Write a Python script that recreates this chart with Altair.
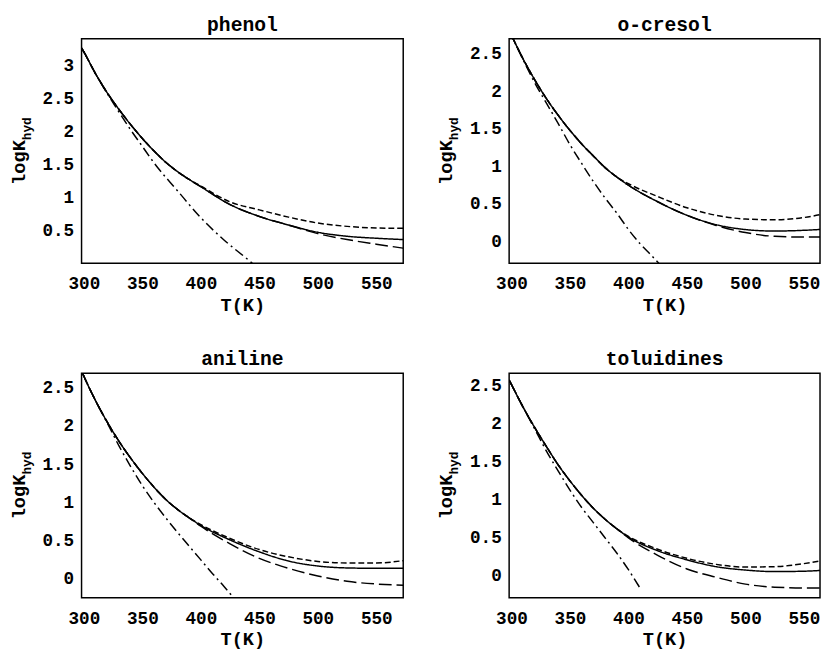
import altair as alt
import pandas as pd

# Temperature grids (K)
T_STD = [298, 300, 310, 320, 330, 340, 350, 360, 370, 380, 390, 400, 425, 450, 475, 500, 525, 550, 573]

# ---------------- phenol ----------------
phenol_solid = [3.26, 3.20, 2.87, 2.58, 2.33, 2.10, 1.89, 1.70, 1.53, 1.39, 1.27, 1.16, 0.89, 0.71, 0.58, 0.47, 0.41, 0.38, 0.36]
phenol_short = [3.26, 3.20, 2.87, 2.58, 2.33, 2.10, 1.89, 1.70, 1.53, 1.39, 1.27, 1.17, 0.93, 0.81, 0.70, 0.61, 0.56, 0.535, 0.53]
phenol_long = [3.26, 3.20, 2.87, 2.58, 2.33, 2.10, 1.89, 1.70, 1.53, 1.39, 1.27, 1.16, 0.89, 0.71, 0.58, 0.45, 0.36, 0.29, 0.23]
phenol_dd_T = [298, 300, 310, 320, 330, 340, 350, 360, 380, 400, 420, 440, 444]
phenol_dd = [3.26, 3.20, 2.87, 2.57, 2.29, 2.02, 1.77, 1.52, 1.10, 0.69, 0.35, 0.06, 0.0]

# ---------------- o-cresol ----------------
cresol_solid = [2.81, 2.745, 2.43, 2.15, 1.90, 1.68, 1.48, 1.30, 1.14, 0.985, 0.86, 0.75, 0.53, 0.35, 0.225, 0.16, 0.14, 0.15, 0.17]
cresol_short = [2.81, 2.745, 2.43, 2.15, 1.90, 1.68, 1.48, 1.30, 1.14, 0.985, 0.86, 0.77, 0.60, 0.45, 0.35, 0.30, 0.29, 0.32, 0.39]
cresol_long = [2.81, 2.745, 2.43, 2.15, 1.90, 1.68, 1.48, 1.30, 1.14, 0.985, 0.86, 0.75, 0.53, 0.35, 0.215, 0.12, 0.07, 0.06, 0.06]
cresol_dd_T = [298, 300, 310, 320, 330, 340, 350, 360, 370, 380, 390, 400, 410, 420, 426]
cresol_dd = [2.81, 2.745, 2.42, 2.11, 1.84, 1.57, 1.29, 1.04, 0.80, 0.58, 0.38, 0.16, -0.03, -0.19, -0.29]

# ---------------- aniline ----------------
aniline_solid = [2.72, 2.65, 2.33, 2.05, 1.80, 1.58, 1.38, 1.20, 1.04, 0.91, 0.80, 0.70, 0.51, 0.355, 0.235, 0.17, 0.145, 0.14, 0.14]
aniline_short = [2.72, 2.65, 2.33, 2.05, 1.80, 1.58, 1.38, 1.20, 1.04, 0.91, 0.80, 0.71, 0.53, 0.385, 0.29, 0.23, 0.21, 0.21, 0.24]
aniline_long = [2.72, 2.65, 2.33, 2.05, 1.80, 1.58, 1.38, 1.20, 1.04, 0.91, 0.80, 0.69, 0.46, 0.27, 0.14, 0.04, -0.03, -0.065, -0.08]
aniline_dd_T = [298, 300, 310, 320, 330, 340, 350, 360, 370, 380, 390, 400, 410, 420, 428]
aniline_dd = [2.72, 2.65, 2.33, 2.04, 1.74, 1.47, 1.22, 1.00, 0.80, 0.61, 0.43, 0.25, 0.07, -0.10, -0.245]

# ---------------- toluidines ----------------
tol_solid = [2.58, 2.52, 2.22, 1.95, 1.70, 1.46, 1.25, 1.06, 0.89, 0.745, 0.62, 0.51, 0.33, 0.21, 0.12, 0.075, 0.055, 0.06, 0.08]
tol_short = [2.58, 2.52, 2.22, 1.95, 1.70, 1.46, 1.25, 1.06, 0.89, 0.745, 0.62, 0.52, 0.35, 0.23, 0.15, 0.115, 0.12, 0.16, 0.22]
tol_long = [2.58, 2.52, 2.22, 1.95, 1.70, 1.46, 1.25, 1.06, 0.89, 0.745, 0.62, 0.50, 0.27, 0.09, -0.02, -0.11, -0.15, -0.16, -0.16]
tol_dd_T = [298, 300, 310, 320, 330, 340, 350, 360, 370, 380, 390, 400, 411]
tol_dd = [2.58, 2.52, 2.22, 1.93, 1.64, 1.38, 1.13, 0.90, 0.70, 0.50, 0.30, 0.08, -0.19]

COMPOUNDS = ["phenol", "o-cresol", "aniline", "toluidines"]
STYLES = ["solid", "short", "long", "dashdot"]
DASHES = [[1, 0], [6, 3], [13, 5], [10, 4, 2, 4]]

X_TICKS = [300, 350, 400, 450, 500, 550]
Y_TICKS_PHENOL = [0.5, 1, 1.5, 2, 2.5, 3]
Y_TICKS_OTHER = [0, 0.5, 1, 1.5, 2, 2.5]
Y_DOMAINS = {"phenol": [0.0, 3.40], "o-cresol": [-0.29, 2.70],
             "aniline": [-0.245, 2.69], "toluidines": [-0.29, 2.67]}

series = {
    "phenol": [(T_STD, phenol_solid), (T_STD, phenol_short), (T_STD, phenol_long), (phenol_dd_T, phenol_dd)],
    "o-cresol": [(T_STD, cresol_solid), (T_STD, cresol_short), (T_STD, cresol_long), (cresol_dd_T, cresol_dd)],
    "aniline": [(T_STD, aniline_solid), (T_STD, aniline_short), (T_STD, aniline_long), (aniline_dd_T, aniline_dd)],
    "toluidines": [(T_STD, tol_solid), (T_STD, tol_short), (T_STD, tol_long), (tol_dd_T, tol_dd)],
}

rows = []
for comp in COMPOUNDS:
    for style, (ts, vs) in zip(STYLES, series[comp]):
        for t, v in zip(ts, vs):
            rows.append({"compound": comp, "style": style, "T": t, "v": v})
df = pd.DataFrame(rows)

FONT = "Liberation Mono"
PH = 229
one_row = alt.Data(values=[{"a": 1}])


def panel(name, yticks, xdom, width):
    base = alt.Chart(df).transform_filter(alt.datum.compound == name)
    lines = base.mark_line(clip=True, color="black", strokeWidth=1.5, interpolate="monotone").encode(
        x=alt.X("T:Q", scale=alt.Scale(domain=xdom, nice=False, zero=False),
                axis=alt.Axis(values=X_TICKS, format="d", title="T(K)", labelPadding=12, titlePadding=3)),
        y=alt.Y("v:Q", scale=alt.Scale(domain=Y_DOMAINS[name], nice=False, zero=False),
                axis=alt.Axis(values=yticks, format="~g", title=None, labelPadding=8)),
        strokeDash=alt.StrokeDash("style:N", scale=alt.Scale(domain=STYLES, range=DASHES), legend=None),
        detail="style:N",
        order="T:Q",
    )
    tw_main = 4 * 0.6 * 19
    tw_sub = 3 * 0.6 * 13
    start = PH / 2 + (tw_main + tw_sub) / 2
    lab1 = alt.Chart(one_row).mark_text(
        text="logK", angle=270, align="left", baseline="alphabetic",
        font=FONT, fontSize=19, fontWeight="bold", color="black"
    ).encode(x=alt.value(-58), y=alt.value(start))
    lab2 = alt.Chart(one_row).mark_text(
        text="hyd", angle=270, align="left", baseline="alphabetic",
        font=FONT, fontSize=13, fontWeight="bold", color="black"
    ).encode(x=alt.value(-52), y=alt.value(start - tw_main))
    return alt.layer(lines, lab1, lab2).properties(
        width=width, height=PH,
        title=alt.TitleParams(name, font=FONT, fontSize=20, fontWeight="bold", color="black", offset=4),
    )


W_CUT = 317
XDOM_FULL = [298, 573]
XDOM_CUT = [298, 298 + W_CUT / (328 / 275)]

p1 = panel("phenol", Y_TICKS_PHENOL, XDOM_FULL, 328)
p2 = panel("o-cresol", Y_TICKS_OTHER, XDOM_CUT, W_CUT)
p3 = panel("aniline", Y_TICKS_OTHER, XDOM_FULL, 328)
p4 = panel("toluidines", Y_TICKS_OTHER, XDOM_CUT, W_CUT)

chart = alt.vconcat(
    alt.hconcat(p1, p2, spacing=33),
    alt.hconcat(p3, p4, spacing=33),
    spacing=34,
).properties(
    padding={"left": 1, "top": 0, "right": 0, "bottom": 0}
).configure_view(
    stroke="black", strokeWidth=1.5
).configure_axis(
    domain=False, ticks=False, grid=False,
    labelFont=FONT, labelFontSize=18, labelFontWeight="bold", labelColor="black",
    titleFont=FONT, titleFontSize=19, titleFontWeight="bold", titleColor="black",
)

chart.save("out.html", embed_options={"renderer": "svg", "actions": False})
